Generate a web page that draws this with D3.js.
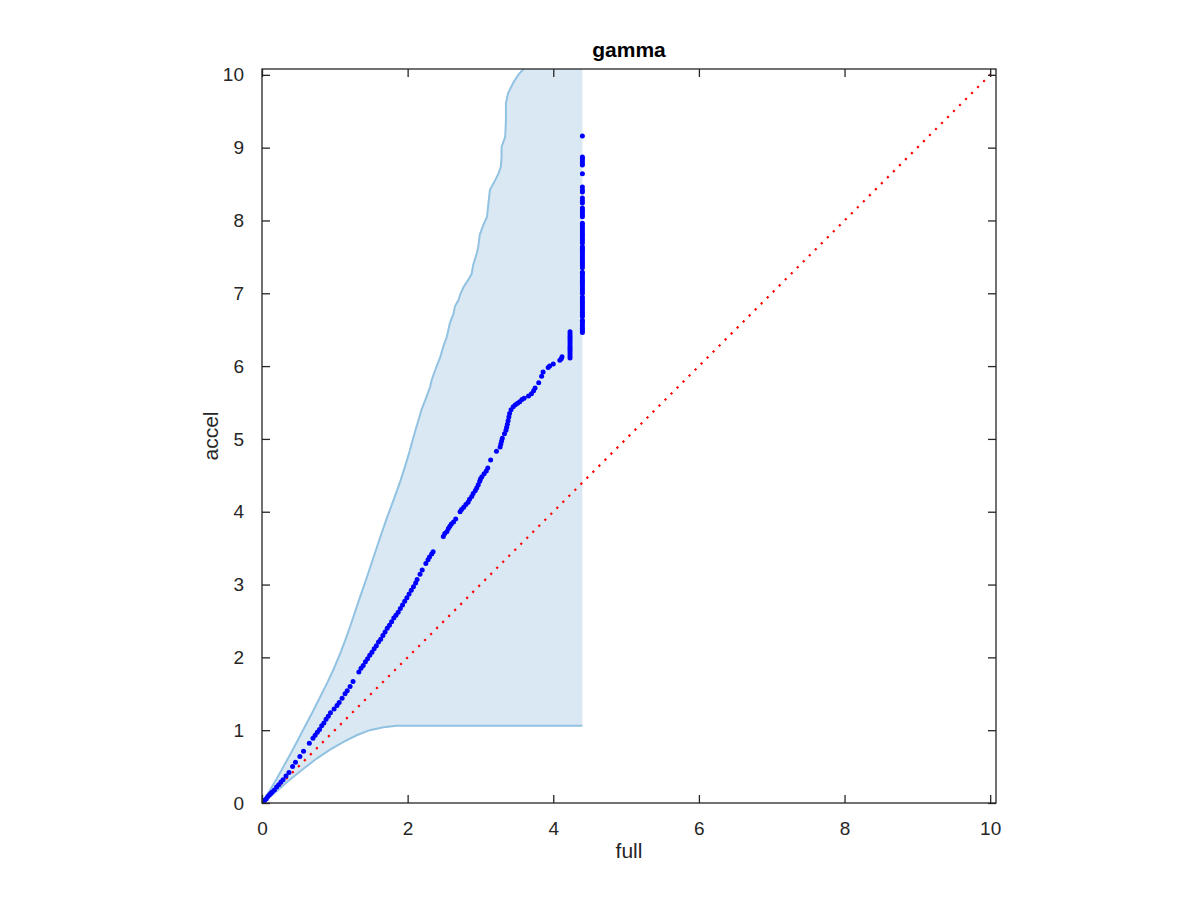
<html>
<meta charset="utf-8">
<body style="margin:0;background:#fff">
<script src="https://d3js.org/d3.v7.min.js"></script>
<div id="chart"></div>
<script>
// axis limits and ticks
var axisMax = 10.08
var xTicks = [0, 2, 4, 6, 8, 10]
var yTicks = [0, 1, 2, 3, 4, 5, 6, 7, 8, 9, 10]

// upper edge of the band (full, accel)
var upperBand = [
  [0,0],[0.1,0.16],[0.2,0.33],[0.3,0.51],[0.4,0.69],[0.5,0.88],[0.6,1.07],[0.7,1.26],
  [0.8,1.46],[0.9,1.66],[0.98,1.83],[1.08,2.07],[1.16,2.28],[1.25,2.54],[1.34,2.81],
  [1.44,3.10],[1.55,3.43],[1.63,3.67],[1.72,3.93],[1.81,4.17],[1.90,4.42],[1.97,4.64],
  [2.03,4.84],[2.07,4.99],[2.11,5.13],[2.15,5.26],[2.19,5.40],[2.26,5.58],[2.31,5.72],
  [2.33,5.81],[2.38,5.95],[2.45,6.13],[2.49,6.27],[2.54,6.41],[2.58,6.59],[2.63,6.72],
  [2.65,6.82],[2.70,6.91],[2.72,6.98],[2.77,7.09],[2.83,7.18],[2.88,7.27],[2.90,7.39],
  [2.95,7.55],[2.97,7.64],[2.99,7.80],[3.04,7.94],[3.09,8.05],[3.11,8.24],[3.13,8.42],
  [3.18,8.51],[3.25,8.65],[3.28,8.74],[3.29,8.88],[3.29,9.01],[3.34,9.15],[3.35,9.38],
  [3.35,9.61],[3.38,9.75],[3.45,9.89],[3.52,10.0],[3.59,10.08],[3.65,10.3],[4.40,10.6]
]
// lower edge of the band
var lowerBand = [
  [0,0],[0.20,0.16],[0.38,0.32],[0.57,0.47],[0.75,0.61],[0.93,0.73],[1.12,0.84],
  [1.30,0.93],[1.48,1.00],[1.67,1.04],[1.85,1.06],[2.03,1.06],[4.40,1.06]
]
var bandEnd = 4.40

// quantile points (full, accel)
var qqPoints = [
  [0,0],[0.02,0.02],[0.04,0.04],[0.06,0.06],[0.08,0.09],[0.10,0.11],[0.12,0.13],[0.14,0.15],
  [0.17,0.18],[0.20,0.22],[0.23,0.25],[0.26,0.29],[0.29,0.32],[0.33,0.37],[0.37,0.42],
  [0.42,0.50],[0.46,0.56],[0.52,0.64],[0.57,0.71],[0.65,0.82],[0.70,0.89],[0.73,0.93],
  [0.76,0.97],[0.79,1.01],[0.82,1.06],[0.85,1.10],[0.88,1.15],[0.91,1.19],[0.94,1.24],
  [0.99,1.29],[1.03,1.34],[1.06,1.38],[1.10,1.44],[1.14,1.50],[1.17,1.54],[1.21,1.60],[1.25,1.67],
  [1.33,1.80],[1.36,1.85],[1.39,1.89],[1.42,1.94],[1.45,1.98],[1.48,2.03],[1.51,2.07],
  [1.54,2.12],[1.57,2.16],[1.60,2.21],[1.63,2.25],[1.66,2.30],[1.69,2.35],[1.72,2.40],
  [1.75,2.44],[1.78,2.49],[1.81,2.54],[1.84,2.58],[1.87,2.62],[1.90,2.67],[1.93,2.72],
  [1.96,2.77],[1.99,2.82],[2.02,2.87],[2.05,2.92],[2.08,2.97],[2.11,3.02],[2.13,3.07],
  [2.17,3.14],[2.20,3.20],[2.25,3.29],[2.28,3.34],[2.30,3.38],[2.33,3.42],[2.35,3.45],
  [2.49,3.66],[2.51,3.70],[2.54,3.73],[2.56,3.77],[2.58,3.80],[2.60,3.83],[2.63,3.86],[2.66,3.90],
  [2.72,4.00],[2.74,4.03],[2.77,4.06],[2.80,4.10],[2.83,4.13],[2.85,4.17],[2.88,4.21],
  [2.90,4.25],[2.93,4.29],[2.95,4.33],[2.97,4.37],[2.99,4.42],[3.00,4.45],[3.02,4.48],
  [3.05,4.52],[3.08,4.56],[3.10,4.60],[3.14,4.71],[3.22,4.83],
  [3.27,4.89],[3.28,4.93],[3.29,4.97],[3.30,5.01],[3.33,5.07],[3.35,5.12],[3.36,5.16],
  [3.37,5.20],[3.38,5.25],[3.39,5.30],[3.40,5.35],[3.42,5.40],[3.45,5.44],[3.48,5.47],
  [3.51,5.49],[3.54,5.51],[3.57,5.54],[3.60,5.56],[3.66,5.59],[3.70,5.62],[3.73,5.66],
  [3.75,5.70],[3.80,5.77],[3.84,5.86],[3.86,5.92],[3.93,5.98],[3.95,6.00],[4.00,6.03],
  [4.09,6.08],[4.11,6.10],[4.12,6.13],
  [4.23,6.11],[4.23,6.14],[4.23,6.17],[4.23,6.20],[4.23,6.23],[4.23,6.26],[4.23,6.29],
  [4.23,6.32],[4.23,6.35],[4.23,6.38],[4.23,6.41],[4.23,6.44],[4.23,6.47],
  [4.40,6.46],[4.40,6.49],[4.40,6.52],[4.40,6.55],[4.40,6.58],[4.40,6.61],[4.40,6.63],
  [4.40,6.68],[4.40,6.71],[4.40,6.74],[4.40,6.77],[4.40,6.80],[4.40,6.83],[4.40,6.86],
  [4.40,6.89],[4.40,6.92],[4.40,6.95],
  [4.40,7.00],[4.40,7.03],[4.40,7.06],[4.40,7.09],[4.40,7.12],[4.40,7.15],[4.40,7.18],
  [4.40,7.21],[4.40,7.24],[4.40,7.27],[4.40,7.29],
  [4.40,7.35],[4.40,7.38],[4.40,7.41],[4.40,7.44],[4.40,7.47],[4.40,7.50],[4.40,7.53],
  [4.40,7.56],[4.40,7.59],[4.40,7.62],[4.40,7.64],
  [4.40,7.69],[4.40,7.72],[4.40,7.75],[4.40,7.78],[4.40,7.81],[4.40,7.84],[4.40,7.87],
  [4.40,7.90],[4.40,7.93],[4.40,7.96],
  [4.40,8.05],[4.40,8.08],[4.40,8.11],[4.40,8.14],[4.40,8.17],
  [4.40,8.24],[4.40,8.27],[4.40,8.31],
  [4.40,8.39],[4.40,8.42],[4.40,8.46],
  [4.40,8.64],
  [4.40,8.76],[4.40,8.79],[4.40,8.82],[4.40,8.85],[4.40,8.87],
  [4.40,9.16]
]

var margin = {top: 69, left: 262},
    width = 734,
    height = 734

var svg = d3.select("#chart")
  .append("svg")
    .attr("width", 1200)
    .attr("height", 900)
    .style("font-family", "'Liberation Sans', Arial, sans-serif")

var g = svg.append("g")
  .attr("transform", "translate(" + margin.left + "," + margin.top + ")")

var x = d3.scaleLinear().domain([0, axisMax]).range([0, width])
var y = d3.scaleLinear().domain([0, axisMax]).range([height, 0])

g.append("clipPath").attr("id", "clip")
  .append("rect").attr("width", width).attr("height", height)

var plot = g.append("g").attr("clip-path", "url(#clip)")

// shaded band
var bandPoly = upperBand.concat([[bandEnd, lowerBand[lowerBand.length - 1][1]]])
  .concat(lowerBand.slice().reverse())
plot.append("path")
  .attr("d", d3.line().x(function(d){ return x(d[0]) }).y(function(d){ return y(d[1]) })(bandPoly) + "Z")
  .style("fill", "#d9e8f3")
  .style("stroke", "none")

var edge = d3.line().x(function(d){ return x(d[0]) }).y(function(d){ return y(d[1]) })
plot.append("path").datum(upperBand).attr("d", edge)
  .style("fill", "none").style("stroke", "#92c2e2").style("stroke-width", 2)
plot.append("path").datum(lowerBand).attr("d", edge)
  .style("fill", "none").style("stroke", "#92c2e2").style("stroke-width", 2)

// reference diagonal
plot.append("line")
  .attr("x1", x(0)).attr("y1", y(0))
  .attr("x2", x(axisMax)).attr("y2", y(axisMax))
  .style("stroke", "#ff0000")
  .style("stroke-width", 2.2)
  .style("stroke-dasharray", "2.2,6.3")

// points
plot.selectAll("circle.q")
  .data(qqPoints)
  .enter().append("circle")
    .attr("cx", function(d){ return x(d[0]) })
    .attr("cy", function(d){ return y(d[1]) })
    .attr("r", 2.5)
    .style("fill", "#0000ff")

// axes: ticks inside on all four sides
var axisColor = "#262626"
var tl = 8
function styleAxis(sel) {
  sel.select(".domain").remove()
  sel.selectAll("line").style("stroke", axisColor).style("stroke-width", 1.3)
  sel.selectAll("text").style("fill", axisColor).style("font-size", "19px")
}
g.append("g").attr("transform", "translate(0," + height + ")")
  .call(d3.axisBottom(x).tickValues(xTicks).tickSizeInner(-tl).tickSizeOuter(0).tickPadding(tl + 11))
  .call(styleAxis)
g.append("g")
  .call(d3.axisTop(x).tickValues(xTicks).tickSizeInner(-tl).tickSizeOuter(0).tickFormat(""))
  .call(styleAxis)
g.append("g")
  .call(d3.axisLeft(y).tickValues(yTicks).tickSizeInner(-tl).tickSizeOuter(0).tickPadding(tl + 10))
  .call(styleAxis)
g.append("g").attr("transform", "translate(" + width + ",0)")
  .call(d3.axisRight(y).tickValues(yTicks).tickSizeInner(-tl).tickSizeOuter(0).tickFormat(""))
  .call(styleAxis)

g.append("rect")
  .attr("width", width).attr("height", height)
  .style("fill", "none").style("stroke", axisColor).style("stroke-width", 1.3)

// labels
svg.append("text")
  .attr("x", margin.left + width / 2).attr("y", 57)
  .attr("text-anchor", "middle")
  .style("font-weight", "bold").style("font-size", "21px").style("fill", "#000")
  .text("gamma")
svg.append("text")
  .attr("x", margin.left + width / 2).attr("y", 858)
  .attr("text-anchor", "middle")
  .style("font-size", "21px").style("fill", axisColor)
  .text("full")
svg.append("text")
  .attr("transform", "translate(218," + (margin.top + height / 2) + ") rotate(-90)")
  .attr("text-anchor", "middle")
  .style("font-size", "21px").style("fill", axisColor)
  .text("accel")
</script>
</body>
</html>
